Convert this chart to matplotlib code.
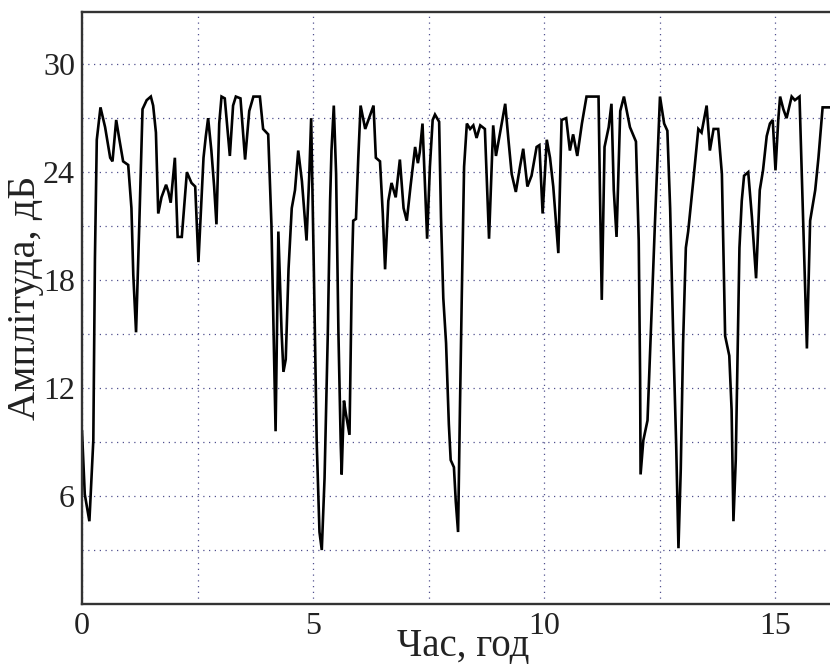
import matplotlib
matplotlib.use("Agg")
import matplotlib.pyplot as plt
from matplotlib.ticker import FixedLocator

# Time (hours)
time_h = [0.00, 0.06, 0.16, 0.245, 0.28, 0.32, 0.40, 0.50, 0.61, 0.66, 0.74, 0.81, 0.89, 1.00,
          1.07, 1.11, 1.17, 1.24, 1.31, 1.40, 1.49, 1.54, 1.60, 1.65, 1.72, 1.82, 1.87, 1.92,
          2.01, 2.07, 2.16, 2.27, 2.37, 2.45, 2.52, 2.63, 2.68, 2.73, 2.80, 2.86, 2.91, 2.97,
          3.02, 3.09, 3.20, 3.27, 3.33, 3.43, 3.53, 3.62, 3.71, 3.85, 3.92, 4.03, 4.10, 4.14,
          4.19, 4.25, 4.32, 4.36, 4.41, 4.47, 4.54, 4.61, 4.68, 4.76, 4.86, 4.92, 4.96, 5.02,
          5.08, 5.14, 5.19, 5.25, 5.32, 5.37, 5.40, 5.45, 5.50, 5.55, 5.60, 5.62, 5.67, 5.71,
          5.79, 5.84, 5.87, 5.93, 5.98, 6.03, 6.13, 6.20, 6.31, 6.36, 6.45, 6.51, 6.56, 6.63,
          6.70, 6.79, 6.88, 6.96, 7.03, 7.11, 7.21, 7.27, 7.31, 7.37, 7.42, 7.47, 7.53, 7.59,
          7.64, 7.73, 7.77, 7.82, 7.88, 7.94, 7.98, 8.05, 8.09, 8.14, 8.18, 8.22, 8.27, 8.33,
          8.40, 8.47, 8.54, 8.62, 8.72, 8.81, 8.90, 8.96, 9.05, 9.16, 9.23, 9.30, 9.39, 9.48,
          9.55, 9.64, 9.73, 9.84, 9.90, 9.97, 10.06, 10.13, 10.20, 10.31, 10.38, 10.48, 10.56,
          10.63, 10.72, 10.82, 10.92, 11.18, 11.21, 11.25, 11.31, 11.40, 11.46, 11.51, 11.57,
          11.65, 11.73, 11.86, 11.99, 12.05, 12.08, 12.09, 12.15, 12.24, 12.33, 12.40, 12.45,
          12.51, 12.60, 12.67, 12.73, 12.80, 12.86, 12.91, 12.96, 13.01, 13.07, 13.12, 13.23,
          13.34, 13.41, 13.52, 13.59, 13.67, 13.77, 13.85, 13.92, 14.01, 14.06, 14.10, 14.15,
          14.23, 14.28, 14.33, 14.42, 14.50, 14.59, 14.67, 14.74, 14.82, 14.89, 14.95, 15.01,
          15.07, 15.11, 15.18, 15.25, 15.36, 15.43, 15.53, 15.60, 15.65, 15.69, 15.76, 15.87,
          15.94, 16.03, 16.19]

# Amplitude (dB)
amp_db = [9.6, 6.1, 4.6, 9.1, 19.2, 25.8, 27.6, 26.5, 24.8, 24.6, 26.9, 25.8, 24.6, 24.4,
          22.0, 18.3, 15.1, 21.1, 27.5, 28.0, 28.2, 27.7, 26.2, 21.7, 22.6, 23.3, 22.9, 22.3,
          24.8, 20.4, 20.4, 24.0, 23.4, 23.2, 19.0, 24.8, 26.0, 27.0, 25.2, 23.2, 21.1, 26.7,
          28.2, 28.1, 24.9, 27.7, 28.2, 28.1, 24.7, 27.4, 28.2, 28.2, 26.4, 26.1, 21.1, 16.0,
          9.6, 20.7, 15.1, 12.9, 13.6, 18.6, 22.0, 23.0, 25.2, 23.5, 20.2, 23.9, 27.0, 18.3,
          9.0, 4.0, 3.0, 7.0, 15.0, 22.4, 25.2, 27.7, 23.9, 15.1, 8.9, 7.2, 11.3, 10.6,
          9.4, 18.3, 21.3, 21.4, 24.8, 27.7, 26.4, 26.9, 27.7, 24.8, 24.6, 21.7, 18.6, 22.4,
          23.4, 22.6, 24.7, 22.0, 21.3, 23.2, 25.4, 24.5, 25.1, 26.7, 23.5, 20.3, 24.3, 26.9,
          27.2, 26.8, 21.5, 17.0, 14.5, 10.0, 8.0, 7.6, 5.7, 4.0, 10.8, 17.1, 24.3, 26.7,
          26.4, 26.6, 25.9, 26.6, 26.4, 20.3, 26.6, 24.9, 26.2, 27.8, 25.8, 23.9, 22.9, 24.3,
          25.3, 23.2, 23.8, 25.4, 25.5, 21.7, 25.8, 24.8, 23.2, 19.5, 26.9, 27.0, 25.2,
          26.1, 24.9, 26.7, 28.2, 28.2, 23.0, 16.9, 25.4, 26.5, 27.8, 23.0, 20.4,
          27.4, 28.2, 26.5, 25.7, 20.2, 12.6, 7.2, 9.1, 10.2, 16.4, 21.1, 24.3,
          28.2, 26.7, 26.3, 22.0, 14.5, 8.9, 3.1, 7.5, 14.5, 19.8, 20.7, 23.5,
          26.4, 26.2, 27.7, 25.2, 26.4, 26.4, 23.9, 14.9, 13.8, 10.8, 4.6, 8.0,
          19.8, 22.4, 23.8, 24.0, 21.5, 18.1, 23.0, 24.1, 26.0, 26.7, 26.9, 24.1,
          26.9, 28.2, 27.5, 27.0, 28.2, 28.0, 28.2, 22.0, 17.7, 14.2, 21.3, 23.0,
          24.8, 27.6, 27.6]

x_major = [0, 5, 10, 15]
x_minor = [2.5, 7.5, 12.5]
y_major = [6, 12, 18, 24, 30]
y_minor = [3, 9, 15, 21, 27]

plt.rcParams['font.family'] = ['Liberation Serif', 'DejaVu Serif']

fig = plt.figure(figsize=(8.3, 6.65), dpi=100)
ax = fig.add_axes([82 / 830, 61 / 665, 748 / 830, 592 / 665])

ax.plot(time_h, amp_db, color='black', linewidth=1.9, solid_joinstyle='miter')

ax.set_xlim(0, 16.19)
ax.set_ylim(0, 32.9)

ax.xaxis.set_major_locator(FixedLocator(x_major))
ax.xaxis.set_minor_locator(FixedLocator(x_minor))
ax.yaxis.set_major_locator(FixedLocator(y_major))
ax.yaxis.set_minor_locator(FixedLocator(y_minor))

grid_kw = dict(color='#50508f', linewidth=0.9, linestyle=(0, (1, 3.6)))
ax.grid(True, which='both', **grid_kw)
ax.set_axisbelow(True)

ax.tick_params(which='both', length=0)
ax.tick_params(axis='y', labelsize=23, pad=5, colors='#222222')
ax.tick_params(axis='x', labelsize=23, pad=6, colors='#222222')

for side in ['left', 'bottom', 'top']:
    ax.spines[side].set_linewidth(1.7)
    ax.spines[side].set_color('#333333')
ax.spines['right'].set_visible(False)

ax.set_xlabel('Час, год', fontsize=28, color='#222222', va='baseline')
ax.xaxis.set_label_coords((463 - 82) / 748, (604 - 656) / 592)
ax.set_ylabel('Амплітуда, дБ', fontsize=29, color='#222222', va='center')
ax.yaxis.set_label_coords((25 - 82) / 748, (604 - 298) / 592)

fig.savefig('out.png', dpi=100)
